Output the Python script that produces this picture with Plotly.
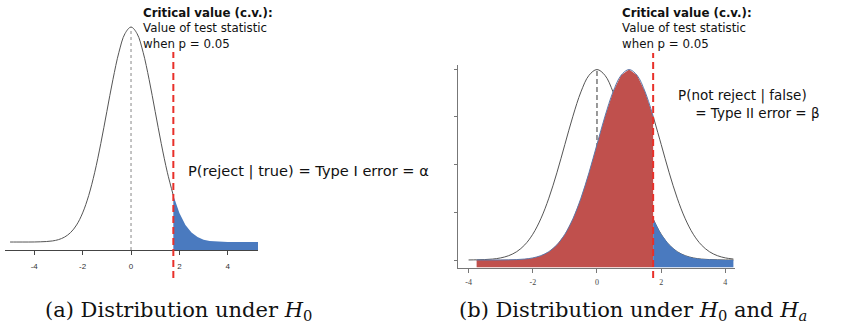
import plotly.graph_objects as go

# ---------------- data ----------------
x_grid = [-5.0, -4.75, -4.5, -4.25, -4.0, -3.75, -3.5, -3.25, -3.0, -2.75,
          -2.5, -2.25, -2.0, -1.75, -1.5, -1.25, -1.0, -0.75, -0.5, -0.25,
          0.0, 0.25, 0.5, 0.75, 1.0, 1.25, 1.5, 1.75, 2.0, 2.25,
          2.5, 2.75, 3.0, 3.25, 3.5, 3.75, 4.0, 4.25, 4.5, 4.75, 5.0, 5.25]
# density under H0 (centred at 0)
h0_density = [0.0, 0.0, 0.0, 0.0, 0.0001, 0.0004, 0.0009, 0.0020, 0.0044, 0.0091,
              0.0175, 0.0317, 0.0540, 0.0863, 0.1295, 0.1826, 0.2420, 0.3011, 0.3521, 0.3867,
              0.3989, 0.3867, 0.3521, 0.3011, 0.2420, 0.1826, 0.1295, 0.0863, 0.0540, 0.0317,
              0.0175, 0.0091, 0.0044, 0.0020, 0.0009, 0.0004, 0.0001, 0.0, 0.0, 0.0, 0.0, 0.0]
# density under Ha (centred at 1)
ha_density = [0.0, 0.0, 0.0, 0.0, 0.0, 0.0, 0.0, 0.0, 0.0001, 0.0004,
              0.0009, 0.0020, 0.0044, 0.0091, 0.0175, 0.0317, 0.0540, 0.0863, 0.1295, 0.1826,
              0.2420, 0.3011, 0.3521, 0.3867, 0.3989, 0.3867, 0.3521, 0.3011, 0.2420, 0.1826,
              0.1295, 0.0863, 0.0540, 0.0317, 0.0175, 0.0091, 0.0044, 0.0020, 0.0, 0.0, 0.0, 0.0]
critical_value = 1.75
tick_vals = [-4, -2, 0, 2, 4]
tick_text = ["-4", "-2", "0", "2", "4"]
ytick_vals_b = [0, 0.1, 0.2, 0.3, 0.4]

a_extent = (-5.0, 5.25)      # x extent of curve in panel (a)
b_h0_extent = (-4.0, 4.25)   # x extent of H0 curve in panel (b)
b_ha_extent = (-3.75, 4.25)  # x extent of Ha curve in panel (b)

# ---------------- layout geometry ----------------
W, H = 850, 327
xr_a = [-5.21, 5.25]
yr_a = [-0.0148, 0.412]
xr_b = [-4.33, 4.30]
yr_b = [-0.0157, 0.4084]

GRAY = "#555555"
RED_FILL = "#c0504d"
BLUE_FILL = "#4a7abf"
RED_LINE = "#e8302a"


def segment(xs, ys, lo, hi):
    sx, sy = [], []
    for xv, yv in zip(xs, ys):
        if lo - 1e-9 <= xv <= hi + 1e-9:
            sx.append(xv)
            sy.append(yv)
    return sx, sy


def area(xs, ys, base):
    return xs + xs[::-1], ys + [base] * len(xs)


fig = go.Figure()

# ---- panel (a) ----
ax_x, ax_y = segment(x_grid, h0_density, a_extent[0], critical_value)
fig.add_trace(go.Scatter(x=ax_x, y=ax_y, mode="lines", line=dict(color=GRAY, width=1, shape="spline"),
                         xaxis="x", yaxis="y", hoverinfo="skip"))
tx, ty = segment(x_grid, h0_density, critical_value, a_extent[1])
px_, py_ = area(tx, ty, yr_a[0])
fig.add_trace(go.Scatter(x=px_, y=py_, mode="lines", fill="toself", fillcolor=BLUE_FILL,
                         line=dict(width=0), xaxis="x", yaxis="y", hoverinfo="skip"))

# ---- panel (b) ----
bx, by = segment(x_grid, h0_density, b_h0_extent[0], b_h0_extent[1])
fig.add_trace(go.Scatter(x=bx, y=by, mode="lines", line=dict(color=GRAY, width=1, shape="spline"),
                         xaxis="x2", yaxis="y2", hoverinfo="skip"))
rx, ry = segment(x_grid, ha_density, critical_value, b_ha_extent[1])
fig.add_trace(go.Scatter(x=rx, y=ry, mode="lines", line=dict(color=GRAY, width=1, shape="spline"),
                         xaxis="x2", yaxis="y2", hoverinfo="skip"))
lx, ly = segment(x_grid, ha_density, b_ha_extent[0], critical_value)
px_, py_ = area(lx, ly, yr_b[0])
fig.add_trace(go.Scatter(x=px_, y=py_, mode="lines", fill="toself", fillcolor=RED_FILL,
                         line=dict(width=0), xaxis="x2", yaxis="y2", hoverinfo="skip"))
fig.add_trace(go.Scatter(x=lx, y=ly, mode="lines", line=dict(color="#5f78a8", width=1, shape="spline"),
                         xaxis="x2", yaxis="y2", hoverinfo="skip"))
ux, uy = segment(x_grid, h0_density, critical_value, b_h0_extent[1])
px_, py_ = area(ux, uy, yr_b[0])
fig.add_trace(go.Scatter(x=px_, y=py_, mode="lines", fill="toself", fillcolor=BLUE_FILL,
                         line=dict(width=0), xaxis="x2", yaxis="y2", hoverinfo="skip"))

peak_h0 = max(h0_density)

shapes = [
    dict(type="line", xref="x", yref="y", x0=0, x1=0, y0=yr_a[0], y1=peak_h0,
         line=dict(color="#888888", width=1, dash="3px,3px"), layer="below"),
    dict(type="line", xref="x", yref="paper", x0=critical_value, x1=critical_value,
         y0=1 - 278 / H, y1=1 - 52 / H, line=dict(color=RED_LINE, width=2, dash="7px,4px")),
    dict(type="line", xref="x2", yref="y2", x0=0, x1=0, y0=0, y1=peak_h0,
         line=dict(color="#777777", width=1.5, dash="5px,3px"), layer="below"),
    dict(type="line", xref="x2", yref="paper", x0=critical_value, x1=critical_value,
         y0=1 - 278 / H, y1=1 - 53 / H, line=dict(color=RED_LINE, width=2, dash="7px,4px")),
]

SANS = "DejaVu Sans, Verdana, sans-serif"
SERIF = "DejaVu Serif, Liberation Serif, serif"


def ann(text, px, py, size, family=SANS, yanchor="middle"):
    return dict(text=text, x=px / W, y=1 - py / H, align="left",
                xref="paper", yref="paper", xanchor="left", yanchor=yanchor,
                showarrow=False, font=dict(size=size, color="#111111", family=family))


cv_text = "<b>Critical value (c.v.):</b><br>Value of test statistic<br>when p = 0.05"
beta_text = "P(not reject | false)<br>&nbsp;&nbsp;&nbsp;&nbsp;= Type II error = β"

annotations = [
    ann(cv_text, 141, 28.5, 11.8),
    ann("P(reject | true) = Type I error = α", 186, 171, 14.6),
    ann(cv_text, 620, 28.5, 11.8),
    ann(beta_text, 676, 104, 13.5),
    ann("(a) Distribution under <i>H</i><sub>0</sub>", 43, 311, 21, family=SERIF),
    ann("(b) Distribution under <i>H</i><sub>0</sub> and <i>H</i><sub><i>a</i></sub>", 457, 311, 21,
        family=SERIF),
]

fig.update_layout(
    width=W, height=H, margin=dict(l=0, r=0, t=0, b=0),
    paper_bgcolor="white", plot_bgcolor="rgba(0,0,0,0)", showlegend=False,
    xaxis=dict(domain=[5 / W, 258 / W], range=xr_a, showgrid=False, zeroline=False,
               showline=True, linecolor="#444444", linewidth=1,
               ticks="outside", ticklen=4, tickcolor="#444444",
               tickvals=tick_vals, ticktext=tick_text, ticklabelstandoff=4,
               tickfont=dict(size=8, color="#333333", family="Liberation Sans, Arial, sans-serif")),
    yaxis=dict(domain=[1 - 250 / H, 1 - 20 / H], range=yr_a, visible=False),
    xaxis2=dict(domain=[458 / W, 735 / W], range=xr_b, showgrid=False, zeroline=False,
                showline=True, linecolor="#777777", linewidth=1, anchor="y2",
                ticks="outside", ticklen=4, tickcolor="#777777",
                tickvals=tick_vals, ticktext=tick_text, ticklabelstandoff=3,
                tickfont=dict(size=8, color="#444444", family="Liberation Serif, serif")),
    yaxis2=dict(domain=[1 - 267.5 / H, 1 - 65 / H], range=yr_b, anchor="x2",
                showgrid=False, zeroline=False, showline=True, linecolor="#777777", linewidth=1,
                ticks="outside", ticklen=3, tickcolor="#777777",
                tickvals=ytick_vals_b, showticklabels=False),
    shapes=shapes, annotations=annotations,
)

fig.write_html("out.html")
